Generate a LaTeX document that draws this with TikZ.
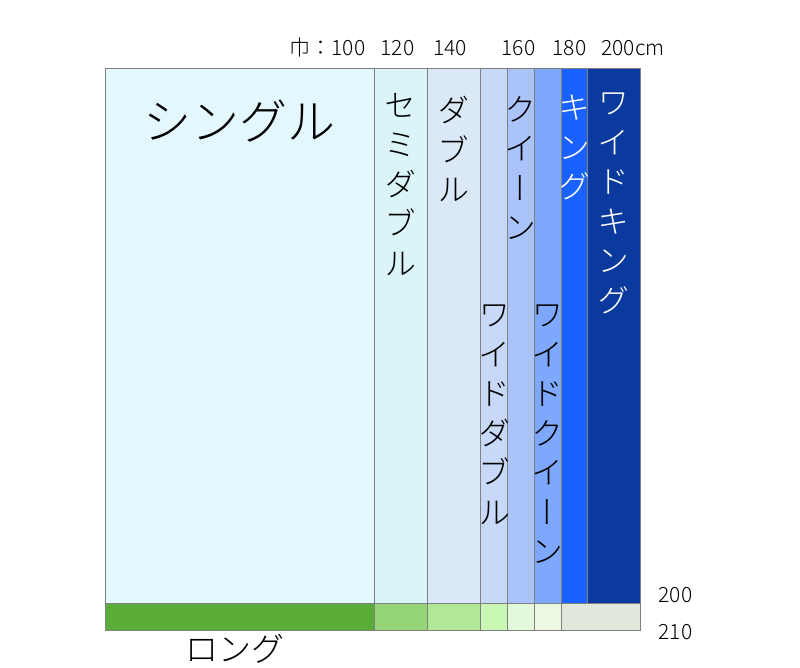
\documentclass[tikz,border=0pt]{standalone}
\usepackage{fontspec}
\usepackage{graphicx}
\newfontfamily\cjk{Noto Sans CJK JP}[UprightFont={* Light}]
\newfontfamily\cjkv{Noto Sans CJK JP}[UprightFont={* Light},RawFeature=+vert]
\definecolor{lineGray}{HTML}{808080}
\definecolor{single}{HTML}{E3F8FC}
\definecolor{semiDouble}{HTML}{DBF4F8}
\definecolor{double}{HTML}{DBE8F8}
\definecolor{wideDouble}{HTML}{C8D8F8}
\definecolor{queen}{HTML}{AAC4FA}
\definecolor{wideQueen}{HTML}{7EA8FB}
\definecolor{king}{HTML}{1A62FF}
\definecolor{wideKing}{HTML}{0A3A9E}
\definecolor{longSingle}{HTML}{5AAC38}
\definecolor{longSemi}{HTML}{96D47A}
\definecolor{longDouble}{HTML}{B0E898}
\definecolor{longWideDouble}{HTML}{C8F8B4}
\definecolor{longQueen}{HTML}{E4F8DC}
\definecolor{longWideQueen}{HTML}{ECF8E4}
\definecolor{longKing}{HTML}{E0E8DC}

\begin{document}
\begin{tikzpicture}[x=1pt,y=-1pt,font=\cjk,
  cell/.style={draw=lineGray, line width=1pt},
  tate/.style={font=\cjkv\fontsize{32}{39.5}\selectfont,
               align=center, anchor=north, inner sep=0pt},
  size/.style={font=\cjk\fontsize{21}{25}\selectfont, inner sep=0pt}]

 \useasboundingbox (0,0) rectangle (800,667);

 % Mattresses, widest first
 \foreach \w/\col in {640/wideKing,587/king,561/wideQueen,534/queen,
                      507/wideDouble,480/double,427/semiDouble,374/single}
   \filldraw[cell, fill=\col] (105,68) rectangle (\w,603);

 % Long band
 \foreach \w/\col in {640/longKing,561/longWideQueen,534/longQueen,
                      507/longWideDouble,480/longDouble,427/longSemi,374/longSingle}
   \filldraw[cell, fill=\col] (105,603) rectangle (\w,630);

 % Names
 \node[font=\cjk\fontsize{48}{54}\selectfont] (single) at (239.5,121) {シングル};
 \node[tate] (semi)       at (400.5,93)  {セ\\ミ\\ダ\\ブ\\ル};
 \node[tate] (double)     at (453.5,96)  {ダ\\ブ\\ル};
 \node[tate] (wdouble)    at (494.5,305) {ワ\\イ\\ド\\ダ\\ブ\\ル};
 \node[tate] (queen)      at (520.5,96)  {ク\\イ\\ー\\ン};
 \node[tate] (wqueen)     at (547.5,305) {ワ\\イ\\ド\\ク\\イ\\ー\\ン};
 \node[tate, text=white] (king)  at (574,95) {キ\\ン\\グ};
 \node[tate, text=white] (wking) at (613.5,93) {ワ\\イ\\ド\\キ\\ン\\グ};
 \node[font=\cjk\fontsize{33}{38}\selectfont] (long) at (235,649) {ロング};

 % Sizes
 \node[size] (w100) at (327.5,48) {巾：100};
 \node[size] (w120) at (397.5,48) {120};
 \node[size] (w140) at (450,48)   {140};
 \node[size] (w160) at (518.5,48) {160};
 \node[size] (w180) at (569.5,48) {180};
 \node[size] (w200) at (633,48)   {200cm};
 \node[size] (l200) at (675.5,595) {200};
 \node[size] (l210) at (675.5,632) {210};
\end{tikzpicture}
\end{document}
